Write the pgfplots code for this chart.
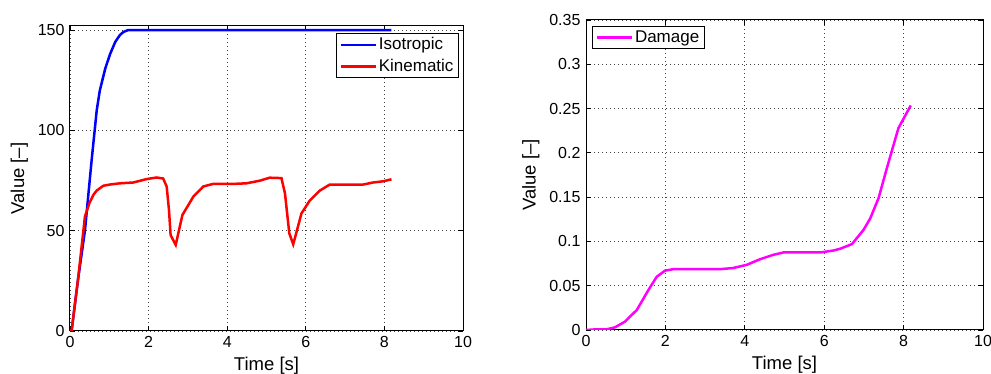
\documentclass[border=0pt]{standalone}
\usepackage{fontspec}
\setmainfont{Liberation Sans}
\usepackage{pgfplots}
\pgfplotsset{compat=1.18}
\definecolor{mblue}{RGB}{0,0,255}
\definecolor{mred}{RGB}{255,0,0}
\definecolor{mmag}{RGB}{255,0,255}
\pgfplotsset{
  mystyle/.style={
    scale only axis,
    anchor=south west,
    xmin=0, xmax=10,
    xtick={0,2,4,6,8,10},
    tick align=inside,
    major tick length=5pt,
    grid=major,
    grid style={dash pattern=on 1pt off 3pt, black!75, line width=0.8pt},
    axis line style={line width=1pt},
    every tick/.style={black, line width=0.8pt},
    xlabel={Time [s]},
    ylabel={Value [–]},
    /pgf/number format/assume math mode=true,
    tick label style={font=\fontsize{16}{19}\selectfont},
    label style={font=\fontsize{18.5}{22}\selectfont},
    xlabel style={yshift=2pt},
    ylabel style={yshift=-1pt},
    legend style={draw=black, line width=1pt, fill=white, font=\fontsize{17}{20}\selectfont, row sep=3pt, inner xsep=3pt, inner ysep=2pt},
    legend cell align=left,
    legend image code/.code={\draw[#1, line width=2.5pt] (0pt,0pt) -- (35pt,0pt);},
  }
}
\begin{document}
\fontsize{16}{19}\selectfont
\begin{tikzpicture}
\useasboundingbox (0pt,0pt) rectangle (991pt,374pt);
\begin{axis}[mystyle, at={(70pt,43pt)}, width=393pt, height=305pt,
  ymin=0, ymax=152, ytick={0,50,100,150},
  legend style={at={(rel axis cs:1,1)}, anchor=north east, xshift=-4pt, yshift=-7pt}]
\addplot[mblue, line width=2.5pt] coordinates {
(0,0) (0.04,0) (0.2,25) (0.38,50) (0.55,85) (0.68,110) (0.76,120) (0.9,131) (1.02,138) (1.15,144) (1.27,147.5) (1.36,149) (1.48,150) (2,150) (4,150) (6,150) (8.18,150)
};
\addlegendentry{Isotropic}
\addplot[mred, line width=2.5pt] coordinates {
(0,0) (0.04,0) (0.2,25) (0.38,57) (0.5,64) (0.6,68) (0.68,70) (0.85,72.4) (1.02,73) (1.27,73.6) (1.61,74) (1.95,75.7) (2.2,76.5) (2.37,76) (2.46,72) (2.52,60) (2.56,47.8) (2.69,42.9) (2.86,57.8) (3.14,67) (3.39,72) (3.64,73.3) (4.15,73.3) (4.49,73.6) (4.83,74.9) (5.08,76.4) (5.38,76.2) (5.47,68.6) (5.58,48.7) (5.68,43.2) (5.89,58.6) (6.1,65) (6.36,70) (6.61,73) (7.46,73) (7.71,74) (7.97,74.6) (8.18,75.6)
};
\addlegendentry{Kinematic}
\end{axis}
\begin{axis}[mystyle, at={(586pt,44pt)}, width=397pt, height=310pt,
  ymin=0, ymax=0.35, ytick={0,0.05,0.1,0.15,0.2,0.25,0.3,0.35},
  scaled y ticks=false,
  yticklabel style={/pgf/number format/fixed, /pgf/number format/precision=2},
  legend style={at={(rel axis cs:0,1)}, anchor=north west, xshift=6pt, yshift=-6pt}]
\addplot[mmag, line width=2.5pt] coordinates {
(0,0) (0.27,0.0008) (0.52,0.0008) (0.73,0.003) (0.98,0.0094) (1.28,0.0226) (1.57,0.045) (1.78,0.060) (1.99,0.067) (2.2,0.0687) (2.87,0.0687) (3.38,0.0687) (3.71,0.070) (4.05,0.0736) (4.39,0.080) (4.72,0.0849) (4.97,0.0875) (5.9,0.0875) (6.24,0.0898) (6.4,0.0917) (6.7,0.097) (6.99,0.113) (7.16,0.126) (7.37,0.149) (7.58,0.183) (7.87,0.228) (8.18,0.2535)
};
\addlegendentry{Damage}
\end{axis}
\end{tikzpicture}
\end{document}
